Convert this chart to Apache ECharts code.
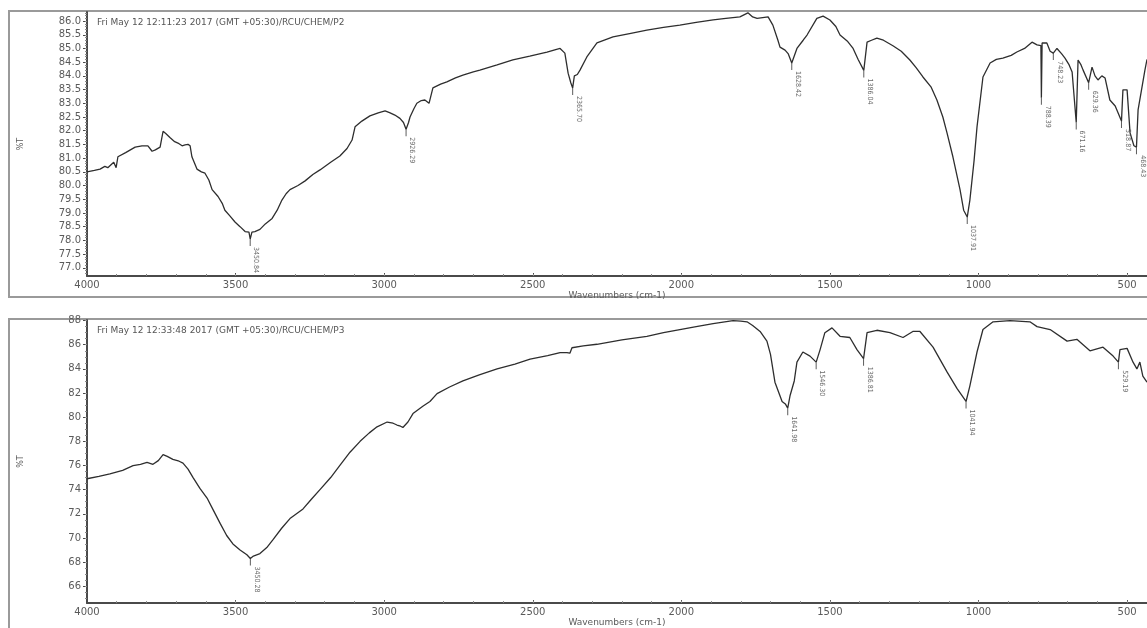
<!DOCTYPE html>
<html>
<head>
<meta charset="utf-8">
<script src="https://cdn.jsdelivr.net/npm/echarts@6/dist/echarts.min.js"></script>
<style>
html,body{margin:0;padding:0;background:#fff;}
#chart{width:1147px;height:628px;}
</style>
</head>
<body>
<div id="chart"></div>
<script>
// ---------- Data ----------
const p2Title = 'Fri May 12 12:11:23 2017 (GMT +05:30)/RCU/CHEM/P2';
const p3Title = 'Fri May 12 12:33:48 2017 (GMT +05:30)/RCU/CHEM/P3';
const xAxisName = 'Wavenumbers (cm-1)';
const yAxisName = '%T';

const xTickLabels = [4000, 3500, 3000, 2500, 2000, 1500, 1000, 500];
const p2YTicks = [77.0,77.5,78.0,78.5,79.0,79.5,80.0,80.5,81.0,81.5,82.0,82.5,83.0,83.5,84.0,84.5,85.0,85.5,86.0];
const p3YTicks = [66,68,70,72,74,76,78,80,82,84,86,88];

const p2Wavenumbers = [4000,3975,3956,3940,3930,3910,3902,3896,3870,3838,3815,3795,3781,3770,3754,3748,3744,3735,3721,3705,3694,3680,3670,3660,3653,3647,3630,3615,3603,3590,3579,3559,3545,3536,3520,3502,3485,3468,3455,3450.84,3445,3435,3418,3400,3377,3360,3344,3330,3317,3290,3266,3240,3216,3180,3149,3125,3108,3098,3075,3048,3020,2997,2980,2964,2947,2935,2926.29,2918,2913,2900,2890,2875,2863,2849,2836,2810,2789,2760,2735,2700,2678,2620,2567,2510,2452,2420,2408,2392,2381,2372,2365.70,2360,2350,2341,2318,2284,2230,2170,2116,2060,2005,1950,1893,1850,1803,1776,1760,1745,1708,1692,1675,1668,1651,1640,1628.42,1611,1590,1577,1544,1523,1500,1480,1466,1440,1422,1405,1386.04,1375,1360,1342,1320,1288,1260,1231,1210,1187,1160,1140,1120,1106,1086,1062,1050,1037.91,1029,1015,1005,985,961,940,918,890,871,845,820,803,790,788.39,786,770,759,748.23,736,720,709,695,685,671.16,665,655,648,629.36,618,608,598,585,574,558,540,534,518.87,514,500,490,477,468.43,463,440,433];
const p2Transmittance = [80.5,80.55,80.6,80.7,80.65,80.85,80.65,81.05,81.2,81.4,81.45,81.45,81.25,81.3,81.4,81.4,81.98,81.9,81.75,81.6,81.55,81.45,81.48,81.5,81.45,81.05,80.6,80.5,80.45,80.2,79.85,79.6,79.35,79.1,78.9,78.67,78.5,78.32,78.3,78.05,78.3,78.32,78.4,78.6,78.8,79.1,79.47,79.7,79.85,80.0,80.17,80.4,80.57,80.85,81.08,81.35,81.66,82.14,82.35,82.54,82.65,82.72,82.65,82.57,82.45,82.3,82.05,82.3,82.5,82.8,83.0,83.1,83.12,83.0,83.56,83.7,83.78,83.93,84.03,84.15,84.21,84.4,84.58,84.72,84.87,84.97,85.0,84.83,84.1,83.75,83.56,84.0,84.05,84.21,84.69,85.2,85.42,85.55,85.67,85.77,85.85,85.95,86.04,86.1,86.15,86.3,86.15,86.1,86.15,85.85,85.3,85.05,84.94,84.8,84.47,85.0,85.3,85.49,86.1,86.18,86.04,85.8,85.49,85.25,85.0,84.6,84.2,85.23,85.3,85.38,85.3,85.1,84.9,84.58,84.3,83.96,83.6,83.12,82.5,81.92,81.04,79.84,79.1,78.85,79.47,80.9,82.14,83.96,84.47,84.6,84.65,84.75,84.87,85.0,85.23,85.13,85.1,83.2,85.2,85.2,84.9,84.83,85.0,84.8,84.65,84.4,84.14,82.3,84.58,84.4,84.21,83.75,84.32,84.0,83.85,84.0,83.92,83.12,82.9,82.87,82.35,83.49,83.49,81.92,81.45,81.4,82.76,84.21,84.6];

const p2PeakWn = [3450.84,2926.29,2365.70,1628.42,1386.04,1037.91,788.39,748.23,671.16,629.36,518.87,468.43];
const p2PeakT  = [78.05,82.05,83.56,84.47,84.2,78.85,83.2,84.83,82.3,83.75,82.35,81.4];

const p3Wavenumbers = [4000,3960,3923,3880,3845,3820,3798,3778,3760,3744,3730,3711,3690,3677,3660,3643,3620,3596,3575,3552,3530,3509,3485,3462,3450.28,3440,3418,3395,3374,3345,3317,3295,3273,3245,3216,3180,3149,3115,3081,3050,3024,2990,2970,2957,2945,2937,2920,2903,2870,2846,2822,2780,2735,2680,2620,2560,2509,2450,2408,2385,2375,2368,2330,2284,2200,2116,2060,2005,1950,1893,1826,1800,1779,1760,1735,1712,1700,1685,1670,1661,1650,1641.98,1634,1620,1611,1591,1567,1546.30,1533,1517,1493,1466,1433,1409,1386.81,1375,1342,1298,1254,1221,1197,1153,1106,1072,1041.94,1029,1005,985,951,894,827,803,759,702,669,625,581,547,529.19,524,500,480,467,457,447,433];
const p3Transmittance = [74.9,75.1,75.3,75.6,75.98,76.1,76.25,76.1,76.4,76.9,76.75,76.5,76.35,76.2,75.7,75.0,74.1,73.3,72.3,71.2,70.2,69.5,69.0,68.6,68.3,68.5,68.7,69.2,69.85,70.8,71.6,72.0,72.4,73.2,74.0,75.0,76.0,77.1,78.0,78.7,79.2,79.6,79.5,79.35,79.25,79.15,79.6,80.3,80.9,81.3,81.95,82.5,83.0,83.5,84.0,84.4,84.8,85.1,85.35,85.35,85.3,85.75,85.9,86.04,86.4,86.7,87.0,87.26,87.5,87.75,88.0,87.95,87.9,87.6,87.1,86.3,85.2,82.9,81.9,81.3,81.1,80.75,81.8,83.0,84.56,85.4,85.06,84.56,85.6,87.0,87.4,86.7,86.6,85.6,84.85,87.0,87.2,87.0,86.6,87.1,87.1,85.8,83.75,82.36,81.3,82.6,85.4,87.26,87.9,88.0,87.9,87.5,87.26,86.3,86.45,85.5,85.8,85.06,84.56,85.6,85.7,84.56,84.0,84.56,83.4,82.9];

const p3PeakWn = [3450.28,1641.98,1546.30,1386.81,1041.94,529.19];
const p3PeakT  = [68.3,80.75,84.56,84.85,81.3,84.56];

// ---------- Build ----------
const zip = (a, b) => a.map((v, i) => [v, b[i]]);
const range = (a, b, s) => { const r = []; for (let v = a; v <= b + 1e-9; v += s) r.push(+v.toFixed(2)); return r; };

const X_MIN = 433, X_MAX = 4000;
const labelFont = 'DejaVu Sans';
const txtColor = '#5a5a5a';
const axisColor = '#4a4a4a';

function majorX(grid) {
  return {
    type: 'value', gridIndex: grid, min: X_MIN, max: X_MAX, inverse: true, position: 'bottom',
    axisLine: { show: true, onZero: false, lineStyle: { color: axisColor, width: 2 } },
    axisTick: { show: true, inside: true, length: 3, customValues: xTickLabels, lineStyle: { color: axisColor } },
    axisLabel: { customValues: xTickLabels, color: txtColor, fontSize: 10, fontFamily: labelFont, margin: 4,
      formatter: v => String(v) },
    splitLine: { show: false },
    name: xAxisName, nameLocation: 'middle', nameGap: 14,
    nameTextStyle: { color: txtColor, fontSize: 9, fontFamily: labelFont }
  };
}
function minorX(grid) {
  return {
    type: 'value', gridIndex: grid, min: X_MIN, max: X_MAX, inverse: true, position: 'bottom',
    axisLine: { show: false },
    axisTick: { show: true, inside: true, length: 2, customValues: range(500, 3900, 100), lineStyle: { color: '#888' } },
    axisLabel: { show: false }, splitLine: { show: false }
  };
}
function majorY(grid, min, max, ticks, dec) {
  return {
    type: 'value', gridIndex: grid, min: min, max: max, position: 'left',
    axisLine: { show: true, onZero: false, lineStyle: { color: axisColor, width: 2 } },
    axisTick: { show: true, length: 4, customValues: ticks, lineStyle: { color: axisColor } },
    axisLabel: { customValues: ticks, color: txtColor, fontSize: 10, fontFamily: labelFont, margin: 6,
      formatter: v => v.toFixed(dec) },
    splitLine: { show: false },
    name: yAxisName, nameLocation: 'middle', nameRotate: 90, nameGap: 62,
    nameTextStyle: { color: txtColor, fontSize: 8, fontFamily: labelFont }
  };
}
function minorY(grid, min, max, ticks) {
  return {
    type: 'value', gridIndex: grid, min: min, max: max, position: 'left',
    axisLine: { show: false },
    axisTick: { show: true, length: 2, customValues: ticks, lineStyle: { color: '#888' } },
    axisLabel: { show: false }, splitLine: { show: false }
  };
}
function peakSeries(xi, yi, wn, t) {
  return {
    type: 'scatter', xAxisIndex: xi, yAxisIndex: yi, data: zip(wn, t),
    symbol: 'rect', symbolSize: [1, 7], symbolOffset: [0, '50%'],
    itemStyle: { color: '#333' }, silent: true, z: 3,
    label: {
      show: true, position: 'bottom', distance: 1, rotate: -90, align: 'left', verticalAlign: 'middle',
      offset: [0, -6], fontSize: 7, fontFamily: 'Liberation Sans Narrow, DejaVu Sans Condensed, sans-serif',
      color: '#444', formatter: p => p.value[0].toFixed(2)
    }
  };
}
function lineSeries(xi, yi, wn, t) {
  return {
    type: 'line', xAxisIndex: xi, yAxisIndex: yi, data: zip(wn, t),
    showSymbol: false, symbol: 'none', lineStyle: { color: '#2e2e2e', width: 1.3 }, silent: true, z: 2
  };
}

const chart = echarts.init(document.getElementById('chart'), null, { renderer: 'canvas' });
chart.setOption({
  animation: false,
  backgroundColor: '#ffffff',
  title: [
    { text: p2Title, left: 92, top: 13, textStyle: { fontSize: 9, color: '#555', fontWeight: 'normal', fontFamily: labelFont } },
    { text: p3Title, left: 92, top: 321, textStyle: { fontSize: 9, color: '#555', fontWeight: 'normal', fontFamily: labelFont } }
  ],
  grid: [
    { left: 87, top: 12, right: 0, height: 264 },
    { left: 87, top: 320, right: 0, height: 287 }
  ],
  xAxis: [majorX(0), minorX(0), majorX(1), minorX(1)],
  yAxis: [
    majorY(0, 76.7, 86.33, p2YTicks, 1), minorY(0, 76.7, 86.33, range(76.8, 86.3, 0.1)),
    majorY(1, 64.6, 88.05, p3YTicks, 0), minorY(1, 64.6, 88.05, range(65, 88, 0.5))
  ],
  series: [
    lineSeries(0, 0, p2Wavenumbers, p2Transmittance),
    peakSeries(0, 0, p2PeakWn, p2PeakT),
    lineSeries(2, 2, p3Wavenumbers, p3Transmittance),
    peakSeries(2, 2, p3PeakWn, p3PeakT)
  ],
  graphic: [
    { type: 'rect', silent: true, z: -1, shape: { x: 9, y: 11, width: 1150, height: 286 }, style: { fill: 'none', stroke: '#9a9a9a', lineWidth: 2 } },
    { type: 'rect', silent: true, z: -1, shape: { x: 9, y: 319, width: 1150, height: 330 }, style: { fill: 'none', stroke: '#9a9a9a', lineWidth: 2 } }
  ]
});
</script>
</body>
</html>
